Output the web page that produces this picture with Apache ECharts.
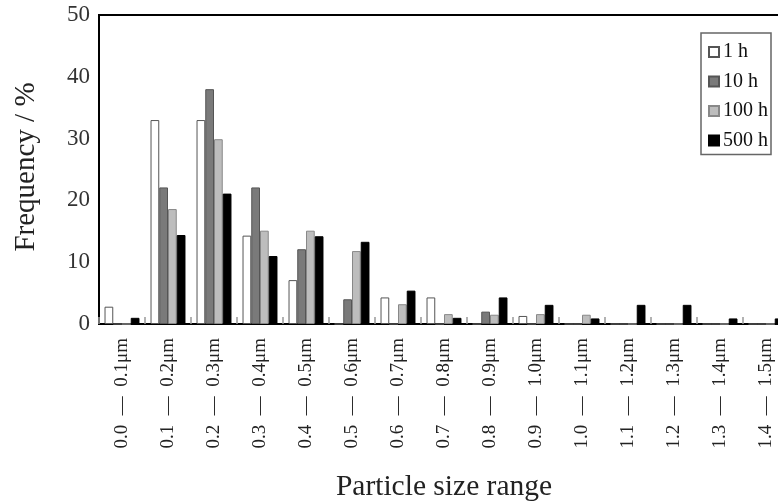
<!DOCTYPE html>
<html><head><meta charset="utf-8">
<script src="https://cdn.jsdelivr.net/npm/echarts@6/dist/echarts.min.js"></script>
<style>html,body{margin:0;padding:0;background:#fff}#c{width:778px;height:503px}</style>
</head><body><div id="c"></div>
<script>
const categories = ["0.0  —  0.1μm","0.1  —  0.2μm","0.2  —  0.3μm","0.3  —  0.4μm","0.4  —  0.5μm","0.5  —  0.6μm","0.6  —  0.7μm","0.7  —  0.8μm","0.8  —  0.9μm","0.9  —  1.0μm","1.0  —  1.1μm","1.1  —  1.2μm","1.2  —  1.3μm","1.3  —  1.4μm","1.4  —  1.5μm"];
const seriesNames = ["1 h","10 h","100 h","500 h"];
const v1h   = [2.8, 33, 33, 14.3, 7.1, 0, 4.3, 4.3, 0, 1.3, 0, 0, 0, 0, 0];
const v10h  = [0, 22.1, 38, 22.1, 12.1, 4, 0, 0, 2, 0, 0, 0, 0, 0, 0];
const v100h = [0, 18.6, 29.9, 15.1, 15.1, 11.8, 3.2, 1.6, 1.5, 1.6, 1.5, 0, 0, 0, 0];
const v500h = [1, 14.4, 21.1, 11, 14.2, 13.3, 5.4, 1, 4.3, 3.1, 0.9, 3.1, 3.1, 0.9, 0.9];
const yTicks = [0, 10, 20, 30, 40, 50];

const serif = "Liberation Serif";
const fills = ["#ffffff", "#7a7a7a", "#bdbdbd", "#000000"];
const borders = ["#555555", "#555555", "#888888", "#000000"];
const data = [v1h, v10h, v100h, v500h];

const chart = echarts.init(document.getElementById('c'), null, {renderer: 'canvas'});
chart.setOption({
  animation: false,
  backgroundColor: '#fff',
  grid: {left: 99, top: 15, width: 690, bottom: 179, outerBoundsMode: 'none', containLabel: false,
         show: true, borderColor: '#000', borderWidth: 2, backgroundColor: 'transparent'},
  legend: {
    orient: 'vertical', left: 701, top: 33,
    data: seriesNames,
    icon: 'rect', itemWidth: 10, itemHeight: 10, itemGap: 9.5,
    padding: [9, 3, 4, 7],
    borderColor: '#666', borderWidth: 1.5,
    textStyle: {fontFamily: serif, fontSize: 20, color: '#111', padding: [0,0,0,-1]}
  },
  xAxis: {
    type: 'category', data: categories,
    axisLine: {lineStyle: {color: '#000', width: 2}},
    axisTick: {show: true, inside: true, length: 7, lineStyle: {color: '#999', width: 1.5}},
    axisLabel: {rotate: 90, margin: 14, fontFamily: serif, fontSize: 19, color: '#222', interval: 0},
    name: 'Particle size range', nameLocation: 'middle', nameGap: 148,
    nameTextStyle: {fontFamily: serif, fontSize: 29.5, color: '#222'}
  },
  yAxis: {
    type: 'value', min: yTicks[0], max: yTicks[yTicks.length-1], interval: 10,
    axisLine: {show: true, lineStyle: {color: '#000', width: 2}},
    axisTick: {show: false}, splitLine: {show: false},
    axisLabel: {margin: 9, fontFamily: serif, fontSize: 23, color: '#333'}
  },
  graphic: [{
    type: 'text', x: 26, y: 167, rotation: Math.PI/2,
    style: {text: 'Frequency / %', font: '29px "Liberation Serif"', fill: '#222', textAlign: 'center', textVerticalAlign: 'middle'}
  }],
  series: seriesNames.map((n, i) => ({
    name: n, type: 'bar', data: data[i],
    barGap: '0%', barCategoryGap: '24%',
    itemStyle: {color: fills[i], borderColor: borders[i], borderWidth: 1}
  }))
});
</script></body></html>
